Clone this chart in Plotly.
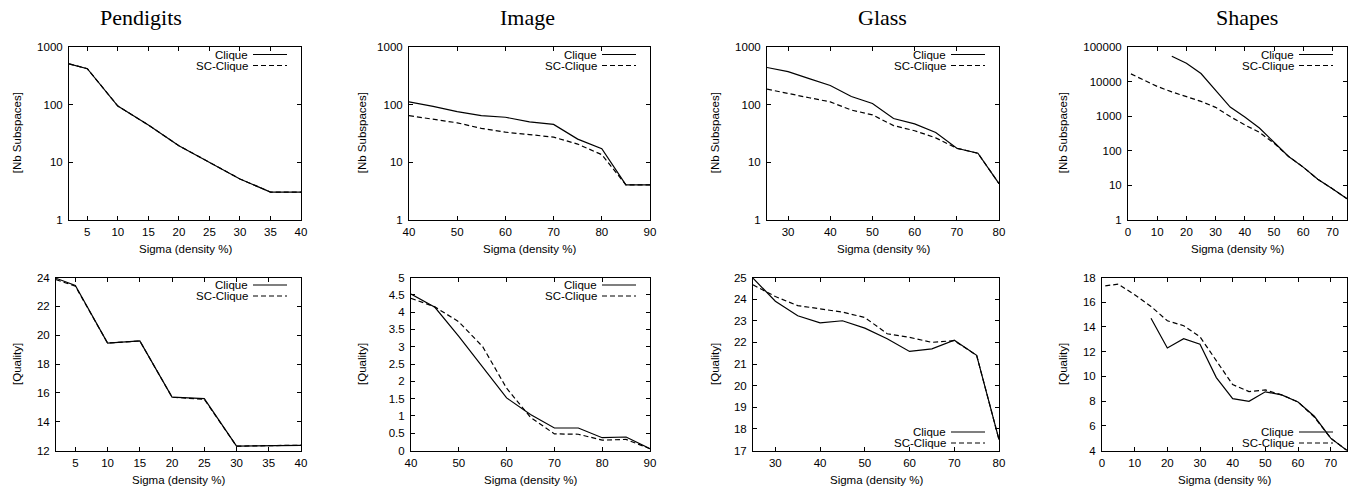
import plotly.graph_objects as go

# ---------------- data ----------------
pend_x = [2, 5, 10, 15, 20, 25, 30, 35, 40]
pend_nb_clique = [510, 420, 94, 44, 19.2, 10, 5.07, 3, 3]
pend_nb_sc = [510, 420, 94, 44, 19.2, 10, 5.07, 3, 3]
pend_q_clique = [23.95, 23.45, 19.45, 19.6, 15.7, 15.6, 12.3, 12.33, 12.35]
pend_q_sc = [23.85, 23.4, 19.45, 19.6, 15.7, 15.55, 12.3, 12.35, 12.37]

img_x = [40, 45, 50, 55, 60, 65, 70, 75, 80, 85, 90]
img_nb_clique = [111, 93, 75, 64, 60, 50, 45, 25, 17, 4, 4]
img_nb_sc = [64, 56, 48, 38.5, 33, 30, 27, 20.5, 13.4, 4, 4]
img_q_clique = [4.52, 4.14, 3.3, 2.4, 1.52, 1.04, 0.65, 0.65, 0.37, 0.39, 0.05]
img_q_sc = [4.4, 4.15, 3.72, 3.0, 1.8, 0.96, 0.48, 0.47, 0.3, 0.32, 0.05]

glass_x = [25, 30, 35, 40, 45, 50, 55, 60, 65, 70, 75, 80]
glass_nb_clique = [440, 372, 282, 214, 138, 104, 57, 46, 32.5, 17.3, 14.2, 4.2]
glass_nb_sc = [185, 158, 131, 111, 80, 66, 43, 35, 26.3, 17.3, 14.2, 4.2]
glass_q_clique = [24.97, 23.9, 23.23, 22.9, 23.0, 22.66, 22.17, 21.58, 21.7, 22.1, 21.4, 17.5]
glass_q_sc = [24.66, 24.12, 23.7, 23.55, 23.4, 23.15, 22.4, 22.23, 22.0, 22.08, 21.4, 17.5]

shapes_x_clique = [15, 20, 25, 30, 35, 40, 45, 50, 55, 60, 65, 70, 75]
shapes_x_sc = [1, 5, 10, 15, 20, 25, 30, 35, 40, 45, 50, 55, 60, 65, 70, 75]
shapes_nb_clique = [53800, 33800, 17000, 5400, 1820, 935, 450, 174, 67, 33, 14.6, 7.8, 4]
shapes_nb_sc = [16600, 11500, 7200, 5000, 3600, 2650, 1780, 960, 550, 338, 163, 67, 33, 14.6, 7.8, 4]
shapes_q_clique = [14.7, 12.3, 13.05, 12.6, 9.9, 8.2, 7.98, 8.75, 8.5, 7.93, 6.77, 5.0, 4.0]
shapes_q_sc = [17.33, 17.46, 16.6, 15.66, 14.5, 14.1, 13.2, 11.3, 9.33, 8.77, 8.9, 8.5, 7.93, 6.7, 5.0, 4.0]

titles = ["Pendigits", "Image", "Glass", "Shapes"]
series_names = ["Clique", "SC-Clique"]
x_title = "Sigma (density %)"
y_title_top = "[Nb Subspaces]"
y_title_bottom = "[Quality]"

# ---------------- layout geometry (pixels) ----------------
W, H = 1365, 488
top_y = (47, 219.5)
bot_y = (277.5, 450.5)
top_x = [(69, 301), (409, 650), (767, 999), (1128, 1347)]
bot_x = [(56, 301), (411, 650), (753, 999), (1102, 1347)]
ytitle_x = [17, 362, 715, 1063]
title_cx = [141, 527, 882, 1247]

def px(x):
    return x / W

def py(y):
    return 1 - y / H

FONT = "Liberation Sans, Arial, Helvetica, sans-serif"
SERIF = "Liberation Serif, Times New Roman, serif"
DASH = "5px,3px"
FS = 11.5

panels = [
    # (row, col, x_clique, y_clique, x_sc, y_sc, log, xrange, yrange, xticks, yticks, ylabels, legend_bottom)
    (0, 0, pend_x, pend_nb_clique, pend_x, pend_nb_sc, True, [2, 40], [0, 3],
     [5, 10, 15, 20, 25, 30, 35, 40], [1, 10, 100, 1000], ["1", "10", "100", "1000"], False),
    (0, 1, img_x, img_nb_clique, img_x, img_nb_sc, True, [40, 90], [0, 3],
     [40, 50, 60, 70, 80, 90], [1, 10, 100, 1000], ["1", "10", "100", "1000"], False),
    (0, 2, glass_x, glass_nb_clique, glass_x, glass_nb_sc, True, [25, 80], [0, 3],
     [30, 40, 50, 60, 70, 80], [1, 10, 100, 1000], ["1", "10", "100", "1000"], False),
    (0, 3, shapes_x_clique, shapes_nb_clique, shapes_x_sc, shapes_nb_sc, True, [0, 75], [0, 5],
     [0, 10, 20, 30, 40, 50, 60, 70], [1, 10, 100, 1000, 10000, 100000],
     ["1", "10", "100", "1000", "10000", "100000"], False),
    (1, 0, pend_x, pend_q_clique, pend_x, pend_q_sc, False, [2, 40], [12, 24],
     [5, 10, 15, 20, 25, 30, 35, 40], [12, 14, 16, 18, 20, 22, 24], None, False),
    (1, 1, img_x, img_q_clique, img_x, img_q_sc, False, [40, 90], [0, 5],
     [40, 50, 60, 70, 80, 90], [0, 0.5, 1, 1.5, 2, 2.5, 3, 3.5, 4, 4.5, 5], None, False),
    (1, 2, glass_x, glass_q_clique, glass_x, glass_q_sc, False, [25, 80], [17, 25],
     [30, 40, 50, 60, 70, 80], [17, 18, 19, 20, 21, 22, 23, 24, 25], None, True),
    (1, 3, shapes_x_clique, shapes_q_clique, shapes_x_sc, shapes_q_sc, False, [0, 75], [4, 18],
     [0, 10, 20, 30, 40, 50, 60, 70], [4, 6, 8, 10, 12, 14, 16, 18], None, True),
]

fig = go.Figure()
annotations = []
shapes = []

for i, (row, col, xc, yc, xs, ys, log, xr, yr, xt, yt, yl, leg_bottom) in enumerate(panels):
    n = i + 1
    xa = "xaxis" if n == 1 else f"xaxis{n}"
    ya = "yaxis" if n == 1 else f"yaxis{n}"
    xref = "x" if n == 1 else f"x{n}"
    yref = "y" if n == 1 else f"y{n}"
    x0, x1 = (top_x if row == 0 else bot_x)[col]
    y0, y1 = top_y if row == 0 else bot_y

    fig.add_trace(go.Scatter(x=xc, y=yc, mode="lines", name=series_names[0],
                             line=dict(color="black", width=1.2),
                             xaxis=xref, yaxis=yref, showlegend=False, hoverinfo="skip"))
    fig.add_trace(go.Scatter(x=xs, y=ys, mode="lines", name=series_names[1],
                             line=dict(color="black", width=1.2, dash=DASH),
                             xaxis=xref, yaxis=yref, showlegend=False, hoverinfo="skip"))

    axis_common = dict(showline=True, linecolor="black", linewidth=1, mirror="ticks",
                       ticks="inside", ticklen=4, tickcolor="black", tickwidth=1,
                       showgrid=False, zeroline=False, automargin=False, fixedrange=True,
                       tickfont=dict(family=FONT, size=FS, color="black"))
    fig.layout[xa] = dict(domain=[px(x0), px(x1)], anchor=yref, range=xr,
                          tickmode="array", tickvals=xt, ticktext=[str(v) for v in xt],
                          ticklabelstandoff=2, **axis_common)
    if log:
        fig.layout[ya] = dict(domain=[py(y1), py(y0)], anchor=xref, type="log", range=yr,
                              tickmode="array", tickvals=yt, ticktext=yl,
                              ticklabelstandoff=3, **axis_common)
    else:
        fig.layout[ya] = dict(domain=[py(y1), py(y0)], anchor=xref, range=yr,
                              tickmode="array", tickvals=yt, ticktext=[f"{v:g}" for v in yt],
                              ticklabelstandoff=3, **axis_common)

    # x-axis title
    annotations.append(dict(text=x_title, x=px((x0 + x1) / 2), y=py(y1 + 29), xref="paper", yref="paper",
                            showarrow=False, xanchor="center", yanchor="middle",
                            font=dict(family=FONT, size=FS, color="black")))
    # y-axis title
    annotations.append(dict(text=y_title_top if row == 0 else y_title_bottom,
                            x=px(ytitle_x[col]), y=py((y0 + y1) / 2), xref="paper", yref="paper",
                            showarrow=False, xanchor="center", yanchor="middle", textangle=-90,
                            font=dict(family=FONT, size=FS, color="black")))
    # legend (gnuplot style: text then sample)
    if leg_bottom:
        rows_y = [y1 - 18.5, y1 - 7.5]
    else:
        rows_y = [y0 + 7.5, y0 + 18.5]
    for k, name in enumerate(series_names):
        ly = rows_y[k]
        annotations.append(dict(text=name, x=px(x1 - 51), y=py(ly), xref="paper", yref="paper",
                                showarrow=False, xanchor="right", yanchor="middle",
                                font=dict(family=FONT, size=FS, color="black")))
        shapes.append(dict(type="line", xref="paper", yref="paper",
                           x0=px(x1 - 48), x1=px(x1 - 14), y0=py(ly), y1=py(ly),
                           line=dict(color="black", width=1.2,
                                     dash="solid" if k == 0 else DASH)))

for col, t in enumerate(titles):
    annotations.append(dict(text=t, x=px(title_cx[col]), y=py(18), xref="paper", yref="paper",
                            showarrow=False, xanchor="center", yanchor="middle",
                            font=dict(family=SERIF, size=22, color="black")))

fig.update_layout(width=W, height=H, template="none",
                  margin=dict(l=0, r=0, t=0, b=0, pad=0),
                  paper_bgcolor="white", plot_bgcolor="white",
                  showlegend=False, annotations=annotations, shapes=shapes,
                  hovermode=False)

fig.write_html("out.html", config={"displayModeBar": False, "staticPlot": True},
               post_script="document.body.style.margin='0';document.body.style.overflow='hidden';")
